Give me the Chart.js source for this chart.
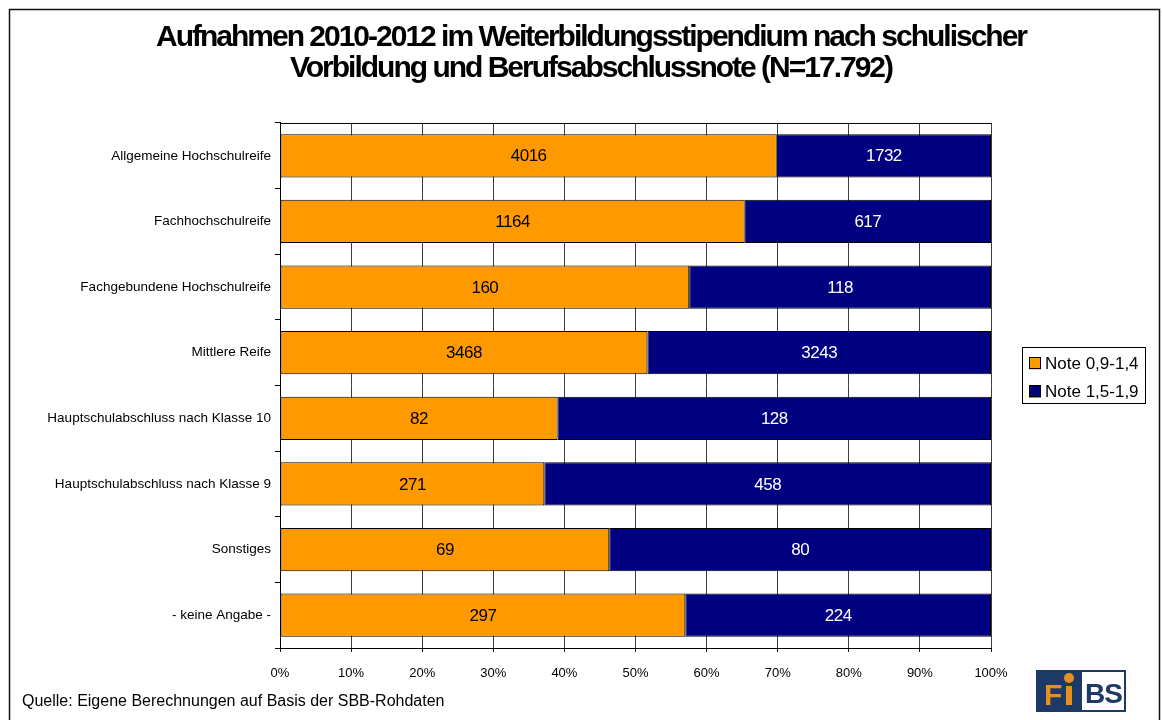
<!DOCTYPE html>
<html lang="de">
<head>
<meta charset="utf-8">
<title>Aufnahmen 2010-2012 im Weiterbildungsstipendium</title>
<script src="https://cdn.jsdelivr.net/npm/chart.js@4.4.1/dist/chart.umd.min.js"></script>
<style>
  html, body { margin: 0; padding: 0; background: #fff; }
  canvas { display: block; }
</style>
</head>
<body>
<canvas id="stipChart" width="1162" height="720"></canvas>
<script>
// Chart data
const categories = [
  'Allgemeine Hochschulreife',
  'Fachhochschulreife',
  'Fachgebundene Hochschulreife',
  'Mittlere Reife',
  'Hauptschulabschluss nach Klasse 10',
  'Hauptschulabschluss nach Klasse 9',
  'Sonstiges',
  '- keine Angabe -'
];
const seriesNames = ['Note 0,9-1,4', 'Note 1,5-1,9'];
const noteGood = [4016, 1164, 160, 3468, 82, 271, 69, 297];   // Note 0,9-1,4
const noteRest = [1732, 617, 118, 3243, 128, 458, 80, 224];   // Note 1,5-1,9
const seriesColors = ['#FF9900', '#000080'];
const labelColors = ['#000000', '#ffffff'];
const titleLines = [
  'Aufnahmen 2010-2012 im Weiterbildungsstipendium nach schulischer',
  'Vorbildung und Berufsabschlussnote (N=17.792)'
];
const sourceNote = 'Quelle: Eigene Berechnungen auf Basis der SBB-Rohdaten';

const FONT = "'Liberation Sans', Arial, Helvetica, sans-serif";

(function() {
  // 100% stacking: share of each row
  const rawSeries = [noteGood, noteRest];
  const totals = categories.map((c, i) => noteGood[i] + noteRest[i]);
  const shareSeries = rawSeries.map(arr => arr.map((v, i) => v / totals[i] * 100));

  // narrower, tighter title like the original
  const tightTitle = {
    id: 'tightTitle',
    afterInit(chart) {
      const tb = chart.titleBlock;
      if (!tb) return;
      const draw = tb.draw.bind(tb);
      tb.draw = function() {
        chart.ctx.save();
        chart.ctx.letterSpacing = '-2px';
        draw();
        chart.ctx.restore();
      };
    }
  };

  // outer frame + top border of the plot area
  const frame = {
    id: 'frame',
    beforeDraw(chart) {
      const ctx = chart.ctx;
      ctx.save();
      ctx.strokeStyle = '#111';
      ctx.lineWidth = 1.5;
      ctx.strokeRect(9.5, 9.5, 1150, 760);
      ctx.restore();
    },
    afterDatasetsDraw(chart) {
      const {ctx, chartArea} = chart;
      ctx.save();
      ctx.strokeStyle = '#000';
      ctx.lineWidth = 1;
      ctx.beginPath();
      ctx.moveTo(chartArea.left, chartArea.top + 0.5);
      ctx.lineTo(chartArea.right, chartArea.top + 0.5);
      ctx.stroke();
      ctx.restore();
    }
  };

  // raw counts written in the middle of each bar segment
  const valueLabels = {
    id: 'valueLabels',
    afterDatasetsDraw(chart) {
      const ctx = chart.ctx;
      ctx.save();
      ctx.font = '17px ' + FONT;
      ctx.letterSpacing = '-0.5px';
      ctx.textAlign = 'center';
      ctx.textBaseline = 'middle';
      chart.data.datasets.forEach((ds, di) => {
        const meta = chart.getDatasetMeta(di);
        meta.data.forEach((bar, i) => {
          ctx.fillStyle = labelColors[di];
          ctx.fillText(String(rawSeries[di][i]), (bar.x + bar.base) / 2, bar.y + 1);
        });
      });
      ctx.restore();
    }
  };

  // boxed legend to the right of the plot
  const boxLegend = {
    id: 'boxLegend',
    afterDraw(chart) {
      const {ctx, chartArea} = chart;
      const sets = chart.data.datasets;
      ctx.save();
      ctx.font = '17px ' + FONT;
      const textW = Math.max(...sets.map(d => ctx.measureText(d.label).width));
      const rowH = 28;
      const w = 23 + textW + 6;
      const h = sets.length * rowH;
      const x0 = chartArea.right + 31;
      const y0 = (chartArea.top + chartArea.bottom) / 2 - 10 - h / 2;
      ctx.fillStyle = '#fff';
      ctx.fillRect(x0, y0, w, h);
      ctx.strokeStyle = '#000';
      ctx.lineWidth = 1;
      ctx.strokeRect(Math.round(x0) + 0.5, Math.round(y0) + 0.5, Math.round(w), Math.round(h));
      ctx.textBaseline = 'middle';
      ctx.textAlign = 'left';
      sets.forEach((d, i) => {
        const ry = y0 + 10 + i * rowH;
        ctx.fillStyle = d.backgroundColor;
        ctx.fillRect(x0 + 7, ry, 12, 12);
        ctx.strokeRect(Math.round(x0 + 7) + 0.5, Math.round(ry) + 0.5, 11, 11);
        ctx.fillStyle = '#000';
        ctx.fillText(d.label, x0 + 23, ry + 6.5);
      });
      ctx.restore();
    }
  };

  // small FiBS logo, bottom right
  const logo = {
    id: 'logo',
    afterDraw(chart) {
      const ctx = chart.ctx;
      const x = 1036, y = 670;
      ctx.save();
      ctx.fillStyle = '#1d3a66';
      ctx.fillRect(x, y, 90, 42);
      ctx.fillStyle = '#fff';
      ctx.fillRect(x + 46, y + 2, 42, 38);
      ctx.textBaseline = 'alphabetic';
      ctx.fillStyle = '#e8901c';
      ctx.font = 'bold 30px ' + FONT;
      ctx.fillText('F', x + 8, y + 35);
      ctx.fillRect(x + 30, y + 16, 6, 19);
      ctx.beginPath();
      ctx.arc(x + 33, y + 8, 5, 0, Math.PI * 2);
      ctx.fill();
      ctx.fillStyle = '#1d3a66';
      ctx.font = 'bold 28px ' + FONT;
      ctx.letterSpacing = '-1px';
      ctx.fillText('BS', x + 49, y + 33);
      ctx.restore();
    }
  };

  const ctx = document.getElementById('stipChart').getContext('2d');
  new Chart(ctx, {
    type: 'bar',
    data: {
      labels: categories,
      datasets: seriesNames.map((name, i) => ({
        label: name,
        data: shareSeries[i],
        backgroundColor: seriesColors[i],
        borderColor: '#000',
        borderWidth: 1,
        borderSkipped: false,
        barPercentage: 0.66,
        categoryPercentage: 1.0
      }))
    },
    options: {
      indexAxis: 'y',
      responsive: false,
      animation: false,
      devicePixelRatio: 1,
      layout: { padding: { left: 22, right: 2, top: 0, bottom: 8.4 } },
      plugins: {
        legend: { display: false },
        tooltip: { enabled: false },
        title: {
          display: true,
          text: titleLines,
          color: '#000',
          font: { family: FONT, size: 30, weight: 'bold', lineHeight: 1.033 },
          padding: { top: 22, bottom: 39 }
        },
        subtitle: {
          display: true,
          position: 'bottom',
          align: 'start',
          text: sourceNote,
          color: '#000',
          font: { family: FONT, size: 16, lineHeight: 1.2 },
          padding: 0
        }
      },
      scales: {
        x: {
          stacked: true,
          min: 0,
          max: 100,
          ticks: {
            stepSize: 10,
            color: '#000',
            padding: 14,
            font: { family: FONT, size: 13 },
            callback: v => v + '%'
          },
          grid: { color: '#3c3c3c', tickColor: '#000', tickLength: 4 },
          border: { color: '#000' },
          afterFit: s => { s.height = 44.4; }
        },
        y: {
          stacked: true,
          ticks: {
            color: '#000',
            padding: 4,
            font: { family: FONT, size: 13.5 }
          },
          grid: { drawOnChartArea: false, tickColor: '#000', tickLength: 5 },
          border: { color: '#000' },
          afterFit: s => { s.width = 258; }
        },
        // empty right-hand axis keeps room for the legend
        yRight: {
          type: 'category',
          position: 'right',
          display: true,
          ticks: { display: false },
          grid: { display: false },
          border: { display: false },
          afterFit: s => { s.width = 169; }
        }
      }
    },
    plugins: [tightTitle, frame, valueLabels, boxLegend, logo]
  });
})();
</script>
</body>
</html>
